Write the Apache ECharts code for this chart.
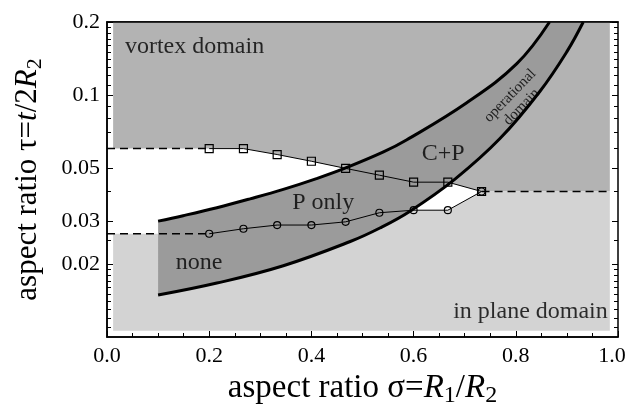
<!DOCTYPE html>
<html lang="en">
<head>
    <meta charset="UTF-8">
    <title>aspect ratio domains</title>
    <script src="https://cdn.jsdelivr.net/npm/echarts@6/dist/echarts.min.js"></script>
    <style>
        html, body { margin: 0; padding: 0; background: #fff; }
        #chart { width: 628px; height: 410px; }
    </style>
</head>
<body>
<div id="chart"></div>

<script type="text/javascript">
    // measured points (sigma = R1/R2, tau = t/2R2)
    var sigmaPts   = [0.2, 0.267, 0.333, 0.4, 0.467, 0.533, 0.6, 0.667, 0.733];
    var tauSquares = [0.060, 0.060, 0.0567, 0.0532, 0.0497, 0.0466, 0.0436, 0.0436, 0.0399];
    var tauCircles = [0.0267, 0.0280, 0.0290, 0.0290, 0.0299, 0.0326, 0.0334, 0.0334, 0.0399];

    // operational domain boundaries
    var upperSigma = [0.1, 0.149, 0.215, 0.28, 0.345, 0.41, 0.466, 0.541, 0.586, 0.704, 0.802, 0.866];
    var upperTau   = [0.0301, 0.0317, 0.0342, 0.0372, 0.0407, 0.0451, 0.0498, 0.0581, 0.0651, 0.0928, 0.1346, 0.2];
    var lowerSigma = [0.1, 0.215, 0.345, 0.476, 0.534, 0.593, 0.681, 0.769, 0.847, 0.90, 0.932];
    var lowerTau   = [0.0149, 0.0167, 0.0197, 0.0248, 0.0282, 0.0331, 0.0449, 0.066, 0.1033, 0.1509, 0.2];

    // shaded domain extents
    var domainLeft = 0.012, domainRight = 0.984, domainBottom = 0.0106;
    var tauMin = 0.01, tauMax = 0.2;

    var tauLabels = [0.02, 0.03, 0.05, 0.1, 0.2];
    var tauMinor = [0.011, 0.012, 0.013, 0.014, 0.015, 0.016, 0.017, 0.018, 0.019,
        0.025, 0.04, 0.06, 0.07, 0.08, 0.09,
        0.11, 0.12, 0.13, 0.14, 0.15, 0.16, 0.17, 0.18, 0.19];

    var notes = [
        [0.035, 0.158, 'vortex domain', 'left', 0],
        [0.98, 0.0127, 'in plane domain', 'right', 0],
        [0.18, 0.0203, 'none', 'center', 0],
        [0.423, 0.0358, 'P only', 'center', 0],
        [0.658, 0.0572, 'C+P', 'center', 0],
        [0.80, 0.094, 'operational\ndomain', 'center', 46]
    ];

    var FONT = '"Liberation Serif", "DejaVu Serif", serif';
    var lg = function (v) { return Math.log10(v); };
    function pairs(xs, ys) {
        return xs.map(function (x, i) { return [x, lg(ys[i])]; });
    }
    // repeat end points so the smoothed fill keeps sharp corners
    function dupEnds(list) {
        return [list[0]].concat(list, [list[list.length - 1]]);
    }

    var squarePts = pairs(sigmaPts, tauSquares);
    var circlePts = pairs(sigmaPts, tauCircles);
    var last = sigmaPts.length - 1;

    var vortexPoly = [[domainLeft, lg(tauMax)], [domainLeft, lg(tauSquares[0])]]
        .concat(squarePts)
        .concat([[domainRight, lg(tauSquares[last])], [domainRight, lg(tauMax)]]);
    var planePoly = [[domainLeft, lg(domainBottom)], [domainLeft, lg(tauCircles[0])]]
        .concat(circlePts)
        .concat([[domainRight, lg(tauCircles[last])], [domainRight, lg(domainBottom)]]);

    var upperPts = pairs(upperSigma, upperTau);
    var lowerPts = pairs(lowerSigma, lowerTau);
    var bandPoly = dupEnds(upperPts).concat(dupEnds(lowerPts).reverse());

    function polySeries(pts, color, z) {
        return {
            type: 'custom',
            z: z,
            silent: true,
            data: [pts[0]],
            renderItem: function (params, api) {
                return {
                    type: 'polygon',
                    shape: { points: pts.map(function (p) { return api.coord(p); }) },
                    style: { fill: color }
                };
            }
        };
    }

    var bandSeries = {
        type: 'custom',
        z: 3,
        silent: true,
        data: [bandPoly[0]],
        renderItem: function (params, api) {
            var px = function (list) { return list.map(function (p) { return api.coord(p); }); };
            var poly = px(bandPoly), up = px(upperPts), low = px(lowerPts);
            return {
                type: 'group',
                children: [
                    { type: 'polygon', shape: { points: poly, smooth: 0.4, smoothConstraint: [poly[0], poly[0]] },
                      style: { fill: '#9b9b9b' } },
                    { type: 'polyline', shape: { points: up, smooth: 0.4, smoothConstraint: [up[0], up[0]] },
                      style: { fill: null, stroke: '#000', lineWidth: 3 } },
                    { type: 'polyline', shape: { points: low, smooth: 0.4, smoothConstraint: [low[0], low[0]] },
                      style: { fill: null, stroke: '#000', lineWidth: 3 } }
                ]
            };
        }
    };

    function dashed(pts) {
        return {
            type: 'line', z: 4, silent: true, symbol: 'none', data: pts,
            lineStyle: { color: '#000', width: 1.5, type: [8, 5] }
        };
    }

    function markedLine(pts, symbol, size) {
        return {
            type: 'line', z: 5, silent: true, data: pts,
            symbol: symbol, symbolSize: size, showSymbol: true,
            lineStyle: { color: '#000', width: 1 },
            itemStyle: { color: 'rgba(0,0,0,0)', borderColor: '#000', borderWidth: 1.2 }
        };
    }

    var noteSeries = {
        type: 'scatter', z: 6, silent: true, symbolSize: 0,
        data: notes.map(function (n) {
            return {
                value: [n[0], lg(n[1])],
                label: {
                    show: true, formatter: n[2], position: 'inside', align: n[3], rotate: n[4],
                    fontFamily: FONT, color: '#000',
                    fontSize: n[4] ? 15 : 24, lineHeight: n[4] ? 16 : 26
                }
            };
        })
    };

    var tickFmt = function (v) { return String(+Math.pow(10, v).toPrecision(2)); };

    function titleStyle(size) {
        return {
            fontFamily: FONT, fontSize: size, color: '#000',
            rich: {
                a: { fontFamily: FONT, fontSize: size, color: '#000', lineHeight: size + 5 },
                i: { fontFamily: FONT, fontSize: size, color: '#000', fontStyle: 'italic', lineHeight: size + 5 },
                s: { fontFamily: FONT, fontSize: Math.round(size * 0.72), color: '#000', verticalAlign: 'bottom' }
            }
        };
    }

    function tauAxis(position, ticks, len, labels) {
        return {
            type: 'value', position: position,
            min: lg(tauMin), max: lg(tauMax),
            axisLine: { show: false },
            splitLine: { show: false },
            axisTick: { show: true, inside: true, length: len, customValues: ticks.map(lg),
                lineStyle: { color: '#000', width: 1 } },
            axisLabel: { show: labels, customValues: tauLabels.map(lg), formatter: tickFmt,
                fontFamily: FONT, fontSize: 22, color: '#000', margin: 7 }
        };
    }

    var yMain = tauAxis('left', tauLabels, 6, true);
    yMain.axisLine = { show: true, lineStyle: { color: '#000', width: 1.5 } };
    yMain.name = '{a|aspect ratio τ=}{i|t}{a|/2}{i|R}{s|2}';
    yMain.nameLocation = 'middle';
    yMain.nameGap = 61;
    yMain.nameTextStyle = titleStyle(31);

    var option = {
        backgroundColor: '#fff',
        animation: false,
        grid: { left: 107, right: 10, top: 22, bottom: 73, outerBoundsMode: 'none',
            show: true, borderColor: '#000', borderWidth: 1.5, backgroundColor: 'transparent' },
        xAxis: [
            {
                type: 'value', position: 'bottom', min: 0, max: 1, interval: 0.2,
                axisLine: { lineStyle: { color: '#000', width: 1.5 } },
                splitLine: { show: false },
                axisTick: { inside: true, length: 6, lineStyle: { color: '#000' } },
                minorTick: { show: true, splitNumber: 4, length: 4, lineStyle: { color: '#000' } },
                axisLabel: {
                    formatter: function (v) { return v === 1 ? '{m|1.0}' : v.toFixed(1); },
                    fontFamily: FONT, fontSize: 22, color: '#000', margin: 8,
                    rich: { m: { fontFamily: FONT, fontSize: 22, color: '#000', padding: [0, 12, 0, 0] } }
                },
                name: '{a|aspect ratio σ=}{i|R}{s|1}{a|/}{i|R}{s|2}',
                nameLocation: 'middle', nameGap: 32,
                nameTextStyle: titleStyle(33)
            },
            {
                type: 'value', position: 'top', min: 0, max: 1, z: 10,
                axisLine: { lineStyle: { color: '#000', width: 1.5 } },
                axisTick: { show: false }, axisLabel: { show: false }, splitLine: { show: false }
            }
        ],
        yAxis: [
            yMain,
            tauAxis('left', tauMinor, 4, false),
            tauAxis('right', tauLabels, 6, false),
            tauAxis('right', tauMinor, 4, false)
        ],
        series: [
            polySeries(vortexPoly, '#b3b3b3', 1),
            polySeries(planePoly, '#d3d3d3', 1),
            bandSeries,
            dashed([[0, lg(tauSquares[0])], [sigmaPts[0], lg(tauSquares[0])]]),
            dashed([[0, lg(tauCircles[0])], [sigmaPts[0], lg(tauCircles[0])]]),
            dashed([[sigmaPts[last], lg(tauSquares[last])], [domainRight, lg(tauSquares[last])]]),
            markedLine(squarePts, 'rect', 8),
            markedLine(circlePts, 'circle', 7),
            noteSeries
        ]
    };

    var myChart = echarts.init(document.getElementById('chart'));
    myChart.setOption(option);
</script>
</body>
</html>
